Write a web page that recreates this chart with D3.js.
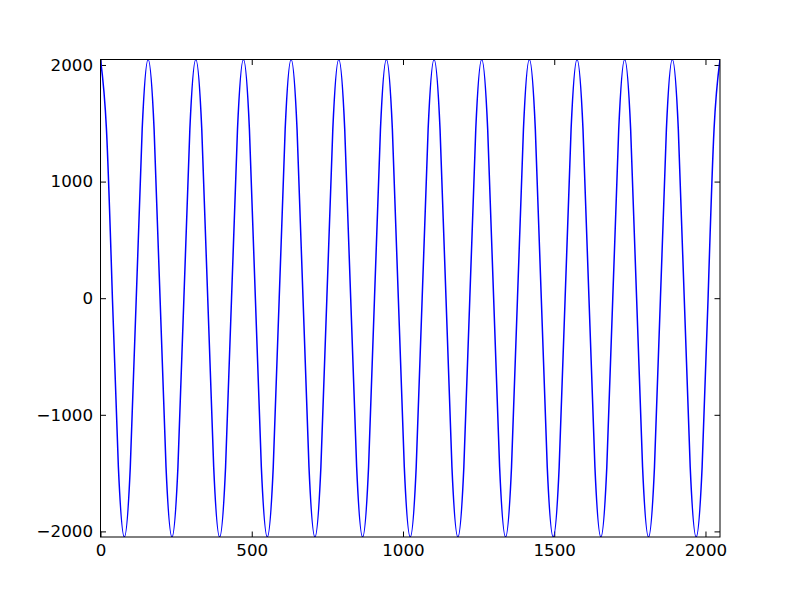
<!DOCTYPE html>
<html lang="en">
<head>
  <meta charset="utf-8" />
  <title>Cosine wave</title>
<style>

body {
	margin: 0;
	background: #fff;
}

.axis text {
	font-family: 'DejaVu Sans', sans-serif;
	font-size: 16.7px;
	fill: #000;
}

.axis line {
	stroke: #000;
	stroke-width: 1px;
}

.domain {
	display: none;
}

</style>
</head>
<body>
	<svg width="800" height="597"></svg>

	<script src="https://cdnjs.cloudflare.com/ajax/libs/d3/7.8.5/d3.min.js"></script>
	<script>

	// samples (8 per period, 13 periods)
	var xs = [
		0, 19.7, 39.4, 59.1, 78.8, 98.5, 118.2, 137.8,
		157.5, 177.2, 196.9, 216.6, 236.3, 256.0, 275.7, 295.4,
		315.1, 334.8, 354.5, 374.2, 393.8, 413.5, 433.2, 452.9,
		472.6, 492.3, 512.0, 531.7, 551.4, 571.1, 590.8, 610.5,
		630.2, 649.8, 669.5, 689.2, 708.9, 728.6, 748.3, 768.0,
		787.7, 807.4, 827.1, 846.8, 866.5, 886.2, 905.8, 925.5,
		945.2, 964.9, 984.6, 1004.3, 1024.0, 1043.7, 1063.4, 1083.1,
		1102.8, 1122.5, 1142.2, 1161.8, 1181.5, 1201.2, 1220.9, 1240.6,
		1260.3, 1280.0, 1299.7, 1319.4, 1339.1, 1358.8, 1378.5, 1398.2,
		1417.8, 1437.5, 1457.2, 1476.9, 1496.6, 1516.3, 1536.0, 1555.7,
		1575.4, 1595.1, 1614.8, 1634.5, 1654.2, 1673.8, 1693.5, 1713.2,
		1732.9, 1752.6, 1772.3, 1792.0, 1811.7, 1831.4, 1851.1, 1870.8,
		1890.5, 1910.2, 1929.8, 1949.5, 1969.2, 1988.9, 2008.6, 2028.3,
		2048
	];

	var ys = [
		2047, 1448, 0, -1448, -2048, -1448, 0, 1448,
		2047, 1448, 0, -1448, -2048, -1448, 0, 1448,
		2047, 1448, 0, -1448, -2048, -1448, 0, 1448,
		2047, 1448, 0, -1448, -2048, -1448, 0, 1448,
		2047, 1448, 0, -1448, -2048, -1448, 0, 1448,
		2047, 1448, 0, -1448, -2048, -1448, 0, 1448,
		2047, 1448, 0, -1448, -2048, -1448, 0, 1448,
		2047, 1448, 0, -1448, -2048, -1448, 0, 1448,
		2047, 1448, 0, -1448, -2048, -1448, 0, 1448,
		2047, 1448, 0, -1448, -2048, -1448, 0, 1448,
		2047, 1448, 0, -1448, -2048, -1448, 0, 1448,
		2047, 1448, 0, -1448, -2048, -1448, 0, 1448,
		2047, 1448, 0, -1448, -2048, -1448, 0, 1448,
		2047
	];

	var xTicks = [0, 500, 1000, 1500, 2000];
	var yTicks = [-2000, -1000, 0, 1000, 2000];
	var xDomain = [0, 2048];
	var yDomain = [-2048, 2047];

	var svg = d3.select("svg"),
		margin = {top: 59.5, right: 80, bottom: 60, left: 100.5},
		width = 720 - margin.left,
		height = 537 - margin.top;

	var x = d3.scaleLinear().domain(xDomain).range([0, width]);
	var y = d3.scaleLinear().domain(yDomain).range([height, 0]);

	var g = svg.append("g")
		.attr("transform", "translate(" + margin.left + "," + margin.top + ")");

	var fmt = function(d) { return d < 0 ? "\u2212" + Math.abs(d) : "" + d; };
	var tick = 5.5, pad = 7.5;

	// bottom and left axes with inward ticks
	g.append("g")
		.attr("class", "axis")
		.attr("transform", "translate(0," + height + ")")
		.call(d3.axisBottom(x).tickValues(xTicks).tickFormat(fmt).tickSize(-tick).tickPadding(pad));

	g.append("g")
		.attr("class", "axis")
		.call(d3.axisLeft(y).tickValues(yTicks).tickFormat(fmt).tickSize(-tick).tickPadding(pad));

	// top and right: ticks only
	g.append("g")
		.attr("class", "axis")
		.call(d3.axisTop(x).tickValues(xTicks).tickFormat("").tickSize(-tick));

	g.append("g")
		.attr("class", "axis")
		.attr("transform", "translate(" + width + ",0)")
		.call(d3.axisRight(y).tickValues(yTicks).tickFormat("").tickSize(-tick));

	svg.append("defs").append("clipPath")
		.attr("id", "clip")
		.append("rect")
		.attr("width", width)
		.attr("height", height);

	var line = d3.line()
		.x(function(d, i) { return x(xs[i]); })
		.y(function(d) { return y(d); })
		.curve(d3.curveNatural);

	g.append("path")
		.datum(ys)
		.attr("clip-path", "url(#clip)")
		.attr("fill", "none")
		.attr("stroke", "#0000ff")
		.attr("stroke-width", 1.5)
		.attr("d", line);

	// frame
	g.append("rect")
		.attr("width", width)
		.attr("height", height)
		.attr("fill", "none")
		.attr("stroke", "#000")
		.attr("stroke-width", 1);

	</script>
</body>
</html>
